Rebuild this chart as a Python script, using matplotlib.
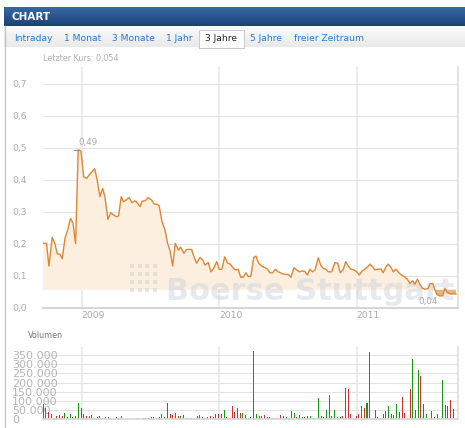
import numpy as np
import matplotlib.pyplot as plt
from matplotlib.colors import LinearSegmentedColormap
from matplotlib.patches import Rectangle
from matplotlib.lines import Line2D
from matplotlib.ticker import FuncFormatter

plt.rcParams['font.family'] = ['DejaVu Sans']

# Kursdaten (Zeit in Dezimaljahren)
kurs_t = [2008.721, 2008.745, 2008.762, 2008.786, 2008.806, 2008.823, 2008.842, 2008.859, 2008.879, 2008.898,
          2008.920, 2008.937, 2008.956, 2008.975, 2008.995, 2009.015, 2009.036, 2009.060, 2009.095, 2009.113,
          2009.133, 2009.153, 2009.169, 2009.191, 2009.211, 2009.235, 2009.255, 2009.269, 2009.288, 2009.305,
          2009.322, 2009.346, 2009.366, 2009.388, 2009.404, 2009.424, 2009.441, 2009.460, 2009.484, 2009.509,
          2009.528, 2009.550, 2009.564, 2009.584, 2009.606, 2009.625, 2009.642, 2009.662, 2009.681, 2009.703,
          2009.720, 2009.744, 2009.764, 2009.800, 2009.817, 2009.836, 2009.860, 2009.880, 2009.897, 2009.921,
          2009.940, 2009.957, 2009.982, 2010.001, 2010.020, 2010.040, 2010.062, 2010.081, 2010.103, 2010.120,
          2010.139, 2010.156, 2010.175, 2010.195, 2010.212, 2010.231, 2010.251, 2010.268, 2010.287, 2010.309,
          2010.333, 2010.353, 2010.369, 2010.389, 2010.408, 2010.430, 2010.455, 2010.479, 2010.503, 2010.522,
          2010.544, 2010.564, 2010.583, 2010.607, 2010.626, 2010.641, 2010.660,
          2010.680, 2010.697, 2010.721, 2010.738, 2010.757, 2010.777, 2010.794, 2010.818, 2010.842, 2010.862,
          2010.881, 2010.903, 2010.920, 2010.939, 2010.959, 2010.980, 2011.000, 2011.019, 2011.039, 2011.060,
          2011.080, 2011.097, 2011.116, 2011.133, 2011.150, 2011.177, 2011.193, 2011.213, 2011.230, 2011.247,
          2011.266, 2011.286, 2011.308, 2011.327, 2011.346, 2011.368, 2011.388, 2011.407, 2011.424, 2011.441,
          2011.460, 2011.480, 2011.499, 2011.519, 2011.533, 2011.553, 2011.569, 2011.586, 2011.606, 2011.625,
          2011.642, 2011.659, 2011.679, 2011.699, 2011.722]
kurs = [0.202, 0.202, 0.131, 0.221, 0.200, 0.169, 0.168, 0.154, 0.218, 0.244,
        0.280, 0.265, 0.201, 0.494, 0.490, 0.410, 0.405, 0.418, 0.435, 0.400,
        0.348, 0.374, 0.348, 0.277, 0.298, 0.290, 0.285, 0.288, 0.348, 0.332,
        0.337, 0.345, 0.329, 0.335, 0.329, 0.317, 0.334, 0.335, 0.345, 0.337,
        0.325, 0.324, 0.319, 0.270, 0.244, 0.202, 0.181, 0.131, 0.202, 0.181,
        0.190, 0.171, 0.183, 0.183, 0.160, 0.140, 0.158, 0.150, 0.134, 0.142,
        0.113, 0.121, 0.145, 0.121, 0.121, 0.160, 0.140, 0.137, 0.124, 0.119,
        0.121, 0.096, 0.096, 0.110, 0.098, 0.100, 0.158, 0.162, 0.140, 0.131,
        0.126, 0.121, 0.110, 0.110, 0.121, 0.113, 0.108, 0.105, 0.105, 0.096,
        0.126, 0.119, 0.113, 0.116, 0.113, 0.103, 0.121,
        0.113, 0.119, 0.157, 0.134, 0.124, 0.121, 0.113, 0.113, 0.142, 0.140,
        0.110, 0.121, 0.145, 0.131, 0.121, 0.119, 0.113, 0.103, 0.116, 0.121,
        0.129, 0.137, 0.129, 0.119, 0.121, 0.122, 0.110, 0.129, 0.137, 0.129,
        0.113, 0.121, 0.110, 0.103, 0.098, 0.090, 0.077, 0.085, 0.074, 0.090,
        0.074, 0.061, 0.059, 0.061, 0.075, 0.077, 0.056, 0.041, 0.038, 0.038,
        0.061, 0.048, 0.044, 0.044, 0.044]
letzter_kurs = 0.054
fill_basis = 0.057

# Volumen (Tausend Stück), G = steigend, R = fallend
volumen_tsd = [80, 62, 37, 29, 4, 15, 20, 18, 33, 11, 26, 11, 18, 88, 59, 26, 15, 16, 20, 4,
               9, 15, 4, 9, 9, 4, 2, 9, 7, 15, 2, 2, 2, 2, 2, 7, 2, 4, 7, 3,
               9, 9, 3, 13, 29, 9, 88, 29, 22, 35, 15, 18, 20, 7, 4, 4, 4, 18, 24, 9,
               4, 9, 15, 9, 29, 26, 26, 48, 9, 3,
               70, 37, 59, 33, 33, 24, 5, 9, 374, 29, 15, 15, 24, 9, 9, 4, 4, 4, 24, 18,
               9, 4, 44, 33, 13, 24, 9, 11, 15, 15, 4, 4, 117, 15, 9, 48, 132, 15, 48, 9,
               9, 18, 172, 167, 29, 4, 15, 26, 73, 62, 88, 366, 4, 51, 9, 4, 26, 42, 73, 26,
               24, 82, 37, 123, 33, 7, 163, 328, 51, 271, 234, 82, 29, 4, 42, 9, 29, 4, 212, 77,
               73, 103, 55]
richtung = ("GGRGRRGRGGGRRGRRRGGRRRGRRRGGRGGRGRGRRGGRRRGRRGRRRGRGRGRGRRGRGGRRGRRGRG"
            "RRGRGGRGGGRRRRRGGRRRRGRGRRGRRGRGGRRGRGGRRRGRRRRRGRGGRRGGRGGRRGRRRGRGRGRRGRGRRRGGRRG")
vol_start, vol_ende = 2008.721, 2011.703

jahre = [2009, 2010, 2011]
kurs_ticks = [0.0, 0.1, 0.2, 0.3, 0.4, 0.5, 0.6, 0.7]
vol_ticks = [0, 50000, 100000, 150000, 200000, 250000, 300000, 350000]
tabs = ["Intraday", "1 Monat", "3 Monate", "1 Jahr", "3 Jahre", "5 Jahre", "freier Zeitraum"]
tab_x = [14, 64, 112, 166, 205, 250, 294]
aktiv = "3 Jahre"

W, H = 465, 428
fig = plt.figure(figsize=(W / 100, H / 100), dpi=100)

# Kopfzeile
grad = np.linspace(0, 1, 64).reshape(-1, 1)
hx = fig.add_axes([4 / W, 1 - 26 / H, 461 / W, 19 / H])
hx.imshow(grad, aspect='auto', cmap=LinearSegmentedColormap.from_list('h', ['#3868a2', '#1b4277']))
hx.axis('off')
fig.text(11 / W, 1 - 16.5 / H, "CHART", color='white', fontsize=7.5, fontweight='bold', va='center')

# Reiter
tx = fig.add_axes([4 / W, 1 - 47 / H, 461 / W, 21 / H])
tx.imshow(grad, aspect='auto', cmap=LinearSegmentedColormap.from_list('t', ['#fbfbfb', '#e9e9e9']))
tx.axis('off')
fig.add_artist(Rectangle((199 / W, 1 - 48 / H), 45 / W, 18 / H, transform=fig.transFigure,
                         facecolor='white', edgecolor='#c8c8c8', lw=0.7))
for name, x in zip(tabs, tab_x):
    fig.text(x / W, 1 - 38.5 / H, name, fontsize=6.6, va='center',
             color='#222222' if name == aktiv else '#2a78c6')
fig.add_artist(Line2D([4.5 / W, 4.5 / W], [0, 1 - 26 / H], color='#c4c4c4', lw=1))

grau = '#a9a9a9'

# Kurschart
ax = fig.add_axes([43 / W, 1 - 308 / H, 415 / W, 241 / H])
ax.set_xlim(2008.719, 2011.737)
ax.set_ylim(0, 0.753)
kt = np.array(kurs_t)
kv = np.array(kurs)
ax.fill_between(kt, kv, fill_basis, where=kv >= fill_basis, interpolate=True,
                color='#fcefdf', lw=0, zorder=1)
ax.fill_between(kt, kv, fill_basis, where=kv < fill_basis, interpolate=True,
                color='#eab47c', lw=0, zorder=1)
ax.plot(kt, kv, color='#dd8736', lw=1.0, zorder=3)

# Wasserzeichen
ax.text(0.296, 0.033, "Boerse Stuttgart", transform=ax.transAxes, fontsize=22, fontweight='bold',
        color='#c8d0da', alpha=0.45, va='baseline', ha='left', zorder=1.5)
gx, gy = np.meshgrid(np.linspace(0.214, 0.27, 4), np.linspace(0.075, 0.174, 4))
ax.scatter(gx.ravel(), gy.ravel(), s=5, marker='s', color='#d0d0d0', alpha=0.5,
           transform=ax.transAxes, zorder=1.5, lw=0)

# Hoch / Tief
i_max = int(np.argmax(kv))
i_min = int(np.argmin(kv))
ax.plot([kt[i_max] - 0.03, kt[i_max]], [kv[i_max], kv[i_max]], color='#8a8a8a', lw=0.8, zorder=3)
ax.annotate(f"{kv[i_max]:.2f}".replace('.', ','), (kt[i_max], kv[i_max]), xytext=(0, 2),
            textcoords='offset points', fontsize=6.3, color=grau, ha='left', va='bottom')
ax.annotate(f"{kv[i_min]:.2f}".replace('.', ','), (kt[i_min], kv[i_min]), xytext=(-1.5, -1),
            textcoords='offset points', fontsize=6.3, color=grau, ha='right', va='top', zorder=4)

ax.set_yticks(kurs_ticks)
ax.yaxis.set_major_formatter(FuncFormatter(lambda v, p: f"{v:.1f}".replace('.', ',')))
ax.set_xticks(jahre)
ax.set_xticklabels([str(j) for j in jahre], ha='left')
ax.tick_params(length=0, labelsize=6.6, labelcolor=grau)
ax.tick_params(axis='y', pad=22.3)
ax.tick_params(axis='x', pad=2.5)
for lab in ax.get_yticklabels():
    lab.set_horizontalalignment('left')
ax.grid(axis='y', color='#e3e3e3', lw=0.8, zorder=0)
ax.grid(axis='x', color='#ececec', lw=1.5, zorder=0)
ax.set_axisbelow(True)
for s in ['left', 'top']:
    ax.spines[s].set_visible(False)
ax.spines['bottom'].set_color('#d6d6d6')
ax.spines['bottom'].set_linewidth(1.5)
ax.spines['right'].set_color('#e3e3e3')
ax.spines['right'].set_linewidth(1.5)

fig.text(43 / W, 1 - 59 / H, f"Letzter Kurs: {letzter_kurs:.3f}".replace('.', ','),
         fontsize=5.8, color='#b0b0b0', va='center')

# Volumen
fig.text(28 / W, 1 - 335 / H, "Volumen", fontsize=5.8, color='#777777', va='center')
axv = fig.add_axes([43 / W, 1 - 419 / H, 415 / W, 72 / H])
axv.set_xlim(ax.get_xlim())
axv.set_ylim(0, 395000)
vol_t = np.linspace(vol_start, vol_ende, len(volumen_tsd))
farben = ['#129a12' if r == 'G' else '#cf2f2f' for r in richtung]
axv.bar(vol_t, np.array(volumen_tsd) * 1000, width=0.0073, color=farben, lw=0, zorder=2)
axv.set_yticks(vol_ticks)
axv.yaxis.set_major_formatter(FuncFormatter(lambda v, p: f"{int(v):,}".replace(',', '.')))
axv.set_xticks(jahre)
axv.set_xticklabels([])
axv.tick_params(length=0, labelsize=8, labelcolor='#b4b4b4')
axv.tick_params(axis='y', pad=22.3)
for lab in axv.get_yticklabels():
    lab.set_horizontalalignment('left')
axv.grid(axis='y', color='#e3e3e3', lw=0.8, zorder=0)
axv.grid(axis='x', color='#ececec', lw=1.5, zorder=0)
axv.set_axisbelow(True)
for s in ['left', 'top']:
    axv.spines[s].set_visible(False)
axv.spines['bottom'].set_color('#d6d6d6')
axv.spines['bottom'].set_linewidth(1.2)
axv.spines['right'].set_color('#e3e3e3')
axv.spines['right'].set_linewidth(1.5)

fig.savefig('out.png', dpi=100)
